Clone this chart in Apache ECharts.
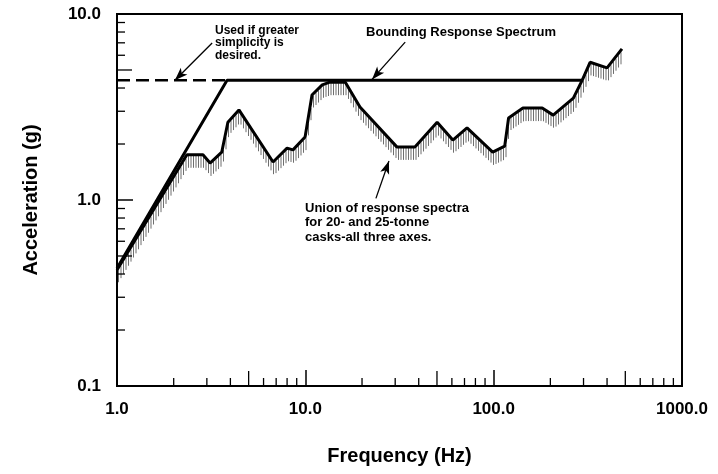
<!DOCTYPE html>
<html>
<head>
<meta charset="utf-8">
<script src="https://cdn.jsdelivr.net/npm/echarts@6/dist/echarts.min.js"></script>
<style>
  html, body { margin: 0; padding: 0; background: #fff; }
  #main { width: 718px; height: 474px; }
</style>
</head>
<body>
<div id="main"></div>
<script>
// Đường bao (bounding response spectrum)
var boundFreq = [1.0, 3.84, 295];
var boundAcc = [0.43, 4.4, 4.4];
// Đoạn nét đứt "used if greater simplicity is desired"
var dashFreq = [1.0, 3.84];
var dashAcc = [4.4, 4.4];
// Hợp các phổ đáp ứng (union of response spectra)
var unionFreq = [1.0, 2.35, 2.86, 3.12, 3.6, 3.88, 4.44, 6.74, 8.0, 8.6, 9.97, 10.85, 12.3, 13.5, 16.3, 19.5,
                 30.6, 38.2, 50.1, 60.7, 72.2, 98.8, 114.5, 120, 143, 181, 207, 265, 295, 325, 400, 480];
var unionAcc = [0.42, 1.75, 1.75, 1.58, 1.81, 2.62, 3.05, 1.6, 1.9, 1.86, 2.18, 3.67, 4.16, 4.3, 4.3, 3.16,
                1.93, 1.93, 2.62, 2.1, 2.44, 1.81, 1.95, 2.76, 3.12, 3.12, 2.86, 3.53, 4.4, 5.5, 5.13, 6.5];
// Vạch chia phụ
var xMinor = [2, 3, 4, 5, 6, 7, 8, 9, 20, 30, 40, 50, 60, 70, 80, 90, 200, 300, 400, 500, 600, 700, 800, 900];
var yMinor = [0.2, 0.3, 0.4, 0.5, 0.6, 0.7, 0.8, 0.9, 2, 3, 4, 5, 6, 7, 8, 9];

var FONT = 'Liberation Sans';

var chart = echarts.init(document.getElementById('main'));

function pair(a, b) { return a.map(function (v, i) { return [v, b[i]]; }); }

function isFive(v) { return Math.abs(Math.log10(v) - Math.round(Math.log10(v) - 0.7) - 0.699) < 0.01; }

var option = {
  animation: false,
  grid: { left: 117, top: 14, width: 565, height: 372, show: true, borderColor: '#000', borderWidth: 2, backgroundColor: 'transparent' },
  xAxis: {
    type: 'log', logBase: 10, min: 1, max: 1000,
    name: 'Frequency (Hz)', nameLocation: 'middle', nameGap: 60,
    nameTextStyle: { fontFamily: FONT, fontWeight: 'bold', fontSize: 20, color: '#000' },
    axisLine: { lineStyle: { color: '#000', width: 2 } },
    axisTick: { inside: true, length: 16, lineStyle: { color: '#000', width: 1.5 } },
    axisLabel: { margin: 15, fontFamily: FONT, fontWeight: 'bold', fontSize: 17, color: '#000',
      formatter: function (v) { return v.toFixed(1); } },
    splitLine: { show: false }
  },
  yAxis: {
    type: 'log', logBase: 10, min: 0.1, max: 10,
    name: 'Acceleration (g)', nameLocation: 'middle', nameGap: 76, nameRotate: 90,
    nameTextStyle: { fontFamily: FONT, fontWeight: 'bold', fontSize: 20, color: '#000' },
    axisLine: { lineStyle: { color: '#000', width: 2 } },
    axisTick: { inside: true, length: 16, lineStyle: { color: '#000', width: 1.5 } },
    axisLabel: { margin: 16, fontFamily: FONT, fontWeight: 'bold', fontSize: 17, color: '#000',
      formatter: function (v) { return v.toFixed(1); } },
    splitLine: { show: false }
  },
  graphic: [
    { type: 'text', left: 215, top: 24, style: { text: 'Used if greater\nsimplicity is\ndesired.', font: 'bold 12px ' + FONT, fill: '#000', lineHeight: 12.5 } },
    { type: 'text', left: 366, top: 26, style: { text: 'Bounding Response Spectrum', font: 'bold 13px ' + FONT, fill: '#000' } },
    { type: 'text', left: 305, top: 201, style: { text: 'Union of response spectra\nfor 20- and 25-tonne\ncasks-all three axes.', font: 'bold 13px ' + FONT, fill: '#000', lineHeight: 14.5 } }
  ],
  series: [
    {
      // gạch bóng dưới đường union
      type: 'custom', silent: true, z: 1,
      data: pair(unionFreq, unionAcc),
      encode: { x: 0, y: 1 },
      renderItem: function (params, api) {
        var i = params.dataIndex;
        if (i >= unionFreq.length - 1) return;
        var p0 = api.coord([unionFreq[i], unionAcc[i]]);
        var p1 = api.coord([unionFreq[i + 1], unionAcc[i + 1]]);
        if (p1[0] - p0[0] < 0.5) return;
        var children = [];
        for (var x = Math.ceil(p0[0] / 2.5) * 2.5; x < p1[0]; x += 2.5) {
          var t = (x - p0[0]) / (p1[0] - p0[0]);
          var y = p0[1] + t * (p1[1] - p0[1]);
          children.push({ type: 'line', shape: { x1: x + 1, y1: y + 1, x2: x + 1, y2: y + 13 },
            style: { stroke: '#6e6e6e', lineWidth: 1 } });
        }
        return { type: 'group', children: children };
      }
    },
    {
      type: 'line', data: pair(unionFreq, unionAcc), symbol: 'none', z: 3,
      lineStyle: { color: '#000', width: 3 }
    },
    {
      type: 'line', data: pair(boundFreq, boundAcc), symbol: 'none', z: 3,
      lineStyle: { color: '#000', width: 3 },
      markLine: {
        silent: true, symbol: ['none', 'arrow'], symbolSize: [7, 13],
        lineStyle: { color: '#000', width: 1.3, type: 'solid' }, label: { show: false },
        data: [
          [{ coord: [3.2, 6.98] }, { coord: [2.03, 4.4] }],
          [{ coord: [33.9, 7.06] }, { coord: [22.6, 4.45] }],
          [{ coord: [23.7, 1.02] }, { coord: [27.8, 1.62] }]
        ]
      }
    },
    {
      type: 'line', data: pair(dashFreq, dashAcc), symbol: 'none', z: 3,
      lineStyle: { color: '#000', width: 2.5, type: [13, 6] }
    },
    {
      // vạch chia phụ trục x
      type: 'custom', silent: true, z: 4,
      data: xMinor.map(function (v) { return [v, 0.1]; }),
      encode: { x: 0, y: 1 },
      renderItem: function (params, api) {
        var v = xMinor[params.dataIndex];
        var p = api.coord([v, 0.1]);
        var len = isFive(v) ? 15 : 8;
        return { type: 'line', shape: { x1: p[0], y1: p[1], x2: p[0], y2: p[1] - len }, style: { stroke: '#000', lineWidth: 1.3 } };
      }
    },
    {
      // vạch chia phụ trục y
      type: 'custom', silent: true, z: 4,
      data: yMinor.map(function (v) { return [1, v]; }),
      encode: { x: 0, y: 1 },
      renderItem: function (params, api) {
        var v = yMinor[params.dataIndex];
        var p = api.coord([1, v]);
        var len = isFive(v) ? 15 : 8;
        return { type: 'line', shape: { x1: p[0], y1: p[1], x2: p[0] + len, y2: p[1] }, style: { stroke: '#000', lineWidth: 1.3 } };
      }
    }
  ]
};

chart.setOption(option);
</script>
</body>
</html>
